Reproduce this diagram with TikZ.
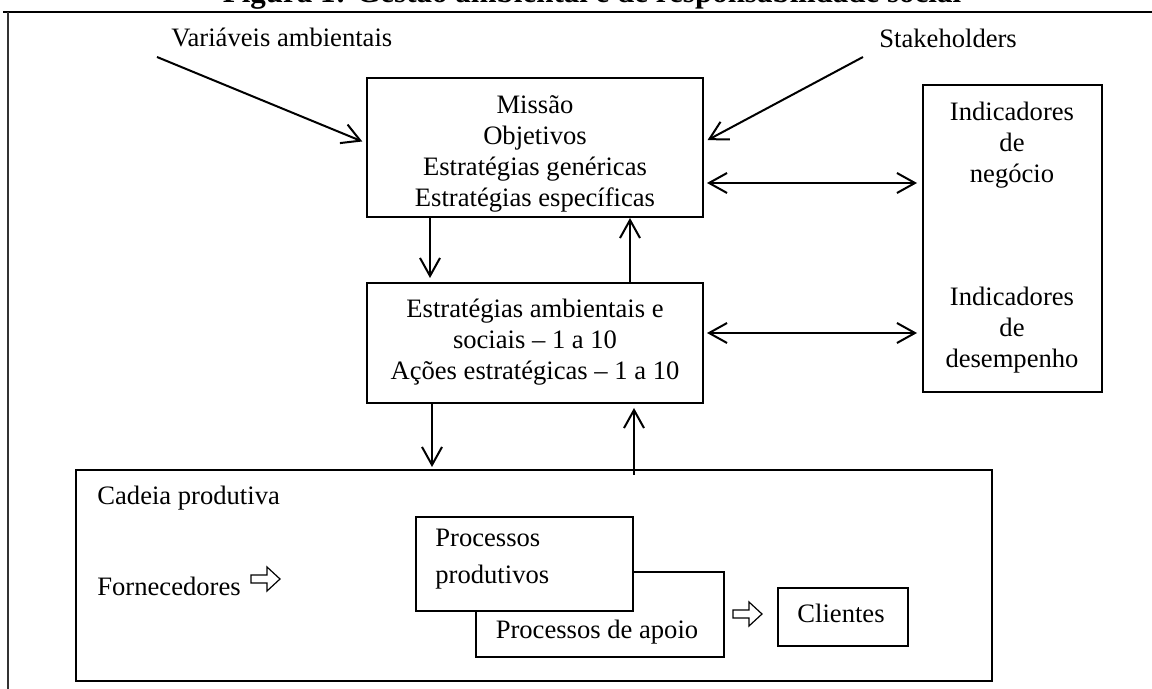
\documentclass[tikz,border=0pt]{standalone}
\usepackage{fontspec}
\setmainfont{Liberation Serif}
\usetikzlibrary{arrows.meta}
\begin{document}
\begin{tikzpicture}[x=0.5pt,y=-0.5pt,
  box/.style={draw, line width=1pt, inner sep=0pt},
  txt/.style={inner sep=0pt, align=center, font=\fontsize{13.3}{15.6}\selectfont},
  conn/.style={line width=1pt, -{Straight Barb[length=9pt,width=10pt,line width=1pt]}},
  dconn/.style={line width=1pt, {Straight Barb[length=9pt,width=10pt,line width=1pt]}-{Straight Barb[length=9pt,width=10pt,line width=1pt]}},
  hollow/.pic={\draw[line width=0.6pt, line join=miter] (0,-4)--(16,-4)--(16,-12)--(29,0)--(16,12)--(16,4)--(0,4)--cycle;}
]
\useasboundingbox (0,0) rectangle (1152,689);
\clip (0,0) rectangle (1152,689);
% title (cut off by the page top, as in the source)
\node[anchor=base, inner sep=0pt, font=\bfseries\fontsize{15.5}{18}\selectfont] (title) at (592,2.5) {Figura 1: Gestão ambiental e de responsabilidade social};
% frame
\draw[line width=1.2pt] (3,12) -- (1152,12);
\draw[line width=1pt, black!80] (8,12) -- (8,689);

% boxes
\node[box, minimum width=168pt, minimum height=69.5pt] (missao) at (535,147.5) {};
\node[txt] (missaotxt) at (535,154) {Missão\\Objetivos\\Estratégias genéricas\\Estratégias específicas};

\node[box, minimum width=168pt, minimum height=60pt] (estr) at (535,343) {};
\node[txt] (estrtxt) at (535,342) {Estratégias ambientais e\\sociais – 1 a 10\\Ações estratégicas – 1 a 10};

\node[box, minimum width=89.5pt, minimum height=153.5pt] (ind) at (1012.5,238.5) {};
\node[txt] (indneg) at (1012,145) {Indicadores\\de\\negócio};
\node[txt] (inddes) at (1012,330) {Indicadores\\de\\desempenho};

\node[box, minimum width=458pt, minimum height=105.5pt] (cadeia) at (534,575.5) {};
\node[txt, anchor=base west] (cadeiatxt) at (97,505) {Cadeia produtiva};
\node[txt, anchor=base west] (forn) at (97,596) {Fornecedores};

\node[box, fill=white, minimum width=124pt, minimum height=42.5pt] (apoio) at (600,614.5) {};
\node[txt, anchor=base] (apoiotxt) at (597,639) {Processos de apoio};
\node[box, fill=white, minimum width=108.5pt, minimum height=47pt] (prod) at (524.5,564) {};
\node[txt, anchor=west, align=left] (prodtxt) at (435,559) {Processos\\[3pt]produtivos};

\node[box, minimum width=65pt, minimum height=29pt] (cli) at (843,617) {};
\node[txt, anchor=base] (clitxt) at (841,623) {Clientes};

% outside labels
\node[txt, anchor=base west] (var) at (171,47) {Variáveis ambientais};
\node[txt, anchor=base west] (stk) at (879,48) {Stakeholders};
\coordinate (varstart) at (157,57);
\coordinate (stkstart) at (863,57);

% hollow arrows
\pic at (251,579) {hollow};
\pic at (733,614) {hollow};

% connectors
\draw[conn, shorten >=2pt] (varstart) -- (missao.west |- 0,143);
\draw[conn, shorten >=2pt] (stkstart) -- (missao.east |- 0,142);
\draw[dconn, shorten <=1.5pt, shorten >=2.5pt] (missao.east |- 0,183) -- (ind.west |- 0,183);
\draw[dconn, shorten <=1.5pt, shorten >=2.5pt] (estr.east |- 0,333) -- (ind.west |- 0,333);
\draw[conn, shorten >=2pt] (430,0 |- missao.south) -- (430,0 |- estr.north);
\draw[conn] (630,0 |- estr.north) -- (630,0 |- missao.south);
\draw[conn, shorten >=1pt] (432,0 |- estr.south) -- (432,0 |- cadeia.north);
\draw[conn, shorten >=2pt] (634,475) -- (634,0 |- estr.south);
\end{tikzpicture}
\end{document}
